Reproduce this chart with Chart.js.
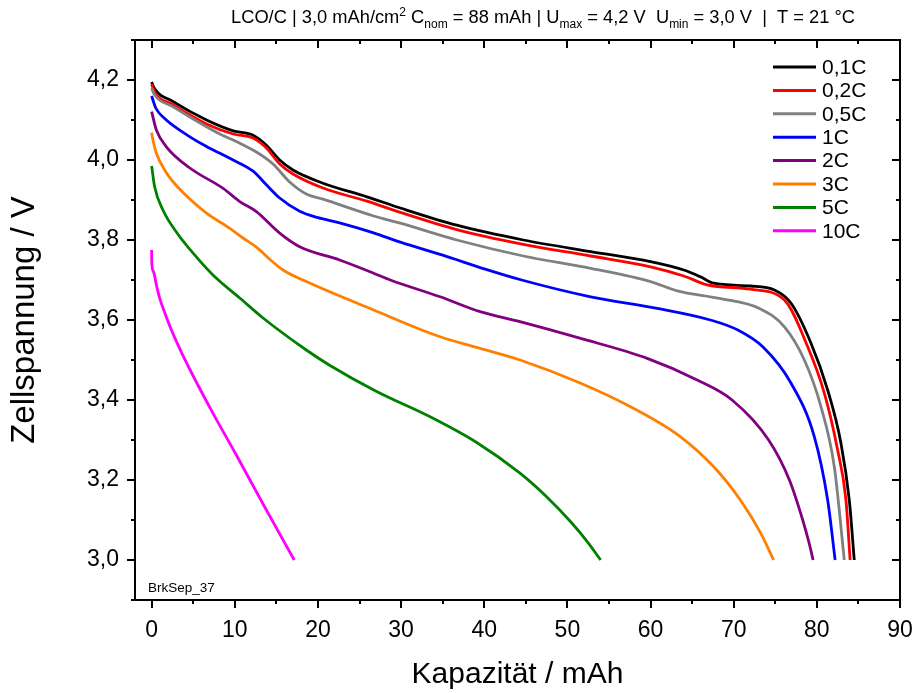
<!DOCTYPE html>
<html><head><meta charset="utf-8">
<script src="https://cdn.jsdelivr.net/npm/chart.js@4.4.0/dist/chart.umd.min.js"></script>
<style>html,body{margin:0;padding:0;background:#fff;}canvas{display:block}</style>
</head><body>
<canvas id="c" width="913" height="693"></canvas>
<script>
const FONT = '"Liberation Sans", Arial, Helvetica, sans-serif';

const seriesLabels = ['0,1C', '0,2C', '0,5C', '1C', '2C', '3C', '5C', '10C'];
const seriesColors = ['#000000', '#ff0000', '#808080', '#0000ff', '#800080', '#ff8000', '#008000', '#ff00ff'];

const cap_01C  = [0, 0.3, 2.6, 6.6, 9.8, 12.2, 13.8, 15.4, 17, 20.6, 25.9, 29.9, 36.7, 44.7, 52.8, 60, 64, 66, 67.6, 72, 74.9, 76.9, 79.3, 81.3, 82.9, 83.9, 84.5];
const volt_01C = [4.195, 4.180, 4.146, 4.100, 4.073, 4.062, 4.037, 4.000, 3.975, 3.942, 3.908, 3.880, 3.837, 3.800, 3.771, 3.746, 3.725, 3.708, 3.692, 3.685, 3.675, 3.642, 3.542, 3.425, 3.292, 3.150, 3.000];

const cap_02C  = [0, 0.3, 2.6, 6.6, 9.8, 12.2, 13.8, 15.4, 17, 20.6, 25.9, 29.9, 36.7, 44.7, 52.8, 60, 64, 66.8, 72, 76.1, 78.9, 80.9, 82.5, 83.5, 84.0];
const volt_02C = [4.190, 4.172, 4.138, 4.090, 4.065, 4.055, 4.030, 3.990, 3.965, 3.930, 3.897, 3.869, 3.826, 3.789, 3.760, 3.733, 3.710, 3.688, 3.677, 3.650, 3.533, 3.417, 3.275, 3.150, 3.000];

const cap_05C  = [0, 0.3, 2.6, 6.6, 8.2, 10.6, 12.6, 14.6, 16.6, 18.6, 20.6, 26.7, 29.9, 36.7, 44.7, 52.8, 60, 63.2, 68.3, 73.1, 76.1, 78.5, 80.5, 82.1, 83.3];
const volt_05C = [4.180, 4.165, 4.133, 4.083, 4.065, 4.042, 4.020, 3.990, 3.945, 3.915, 3.902, 3.860, 3.842, 3.800, 3.760, 3.729, 3.696, 3.673, 3.654, 3.629, 3.583, 3.500, 3.383, 3.233, 3.000];

const cap_1C   = [0, 0.5, 1.5, 4.6, 6.6, 9.8, 12.2, 13.8, 15.4, 17.8, 20, 22.6, 26.7, 30, 35, 40, 44.5, 52.8, 60.8, 67.2, 70.5, 73.5, 76.9, 79.7, 81.3, 82.2];
const volt_1C  = [4.160, 4.130, 4.105, 4.058, 4.034, 4.000, 3.972, 3.938, 3.905, 3.872, 3.856, 3.843, 3.818, 3.794, 3.762, 3.728, 3.700, 3.658, 3.629, 3.600, 3.575, 3.533, 3.442, 3.308, 3.150, 3.000];

const cap_2C   = [0, 0.57, 1.77, 4.6, 8.6, 10.6, 12.6, 15.4, 17.8, 22.6, 26.7, 28.7, 34.7, 39.5, 44.3, 51.6, 59.6, 65.6, 69.8, 74.2, 76.7, 78.3, 79.1, 79.55];
const volt_2C  = [4.121, 4.075, 4.033, 3.980, 3.929, 3.896, 3.871, 3.817, 3.783, 3.750, 3.717, 3.700, 3.658, 3.621, 3.596, 3.554, 3.504, 3.450, 3.400, 3.300, 3.200, 3.100, 3.040, 3.000];

const cap_3C   = [0, 0.16, 0.57, 1.77, 2.6, 3.8, 6.6, 9.4, 11.0, 12.6, 14.2, 15.8, 18.6, 26.7, 34.7, 39.5, 44.3, 51.6, 57.6, 63.6, 67.6, 70.8, 73.25, 74.8];
const volt_3C  = [4.068, 4.050, 4.017, 3.968, 3.945, 3.918, 3.867, 3.829, 3.805, 3.782, 3.752, 3.725, 3.696, 3.625, 3.558, 3.529, 3.500, 3.442, 3.383, 3.308, 3.233, 3.150, 3.067, 3.000];

const cap_5C   = [0, 0.36, 1.36, 2.97, 5.4, 7.4, 10.6, 13.4, 18.6, 21.4, 27.0, 33.5, 39.0, 44.3, 47.5, 50.5, 52.5, 54.0];
const volt_5C  = [3.985, 3.933, 3.875, 3.820, 3.757, 3.712, 3.655, 3.605, 3.525, 3.487, 3.422, 3.358, 3.295, 3.217, 3.158, 3.093, 3.043, 3.000];

const cap_10C  = [0, 0.02, 0.2, 0.6, 1.0, 1.6, 2.5, 3.5, 5.0, 7.4, 10.2, 13.4, 17.15];
const volt_10C = [3.775, 3.742, 3.722, 3.685, 3.652, 3.617, 3.569, 3.523, 3.460, 3.366, 3.262, 3.140, 3.000];

const seriesCaps  = [cap_01C, cap_02C, cap_05C, cap_1C, cap_2C, cap_3C, cap_5C, cap_10C];
const seriesVolts = [volt_01C, volt_02C, volt_05C, volt_1C, volt_2C, volt_3C, volt_5C, volt_10C];

const xTickValues = [0, 10, 20, 30, 40, 50, 60, 70, 80, 90];
const yTickValues = [3.0, 3.2, 3.4, 3.6, 3.8, 4.0, 4.2];

const datasets = seriesLabels.map((lab, i) => ({
  label: lab,
  data: seriesCaps[i].map((c, k) => ({ x: c, y: seriesVolts[i][k] })),
  borderColor: seriesColors[i],
  backgroundColor: seriesColors[i],
  borderWidth: 2.8,
  pointRadius: 0,
  showLine: true,
  cubicInterpolationMode: 'monotone',
  fill: false,
  order: seriesLabels.length - i
}));

const framePlugin = {
  id: 'frame',
  afterDraw(chart) {
    const { ctx, chartArea: a, scales: { x, y } } = chart;
    ctx.save();
    ctx.strokeStyle = '#000';
    ctx.lineWidth = 2;
    ctx.strokeRect(a.left, a.top, a.right - a.left, a.bottom - a.top);
    ctx.beginPath();
    for (let v = 0; v <= 90; v += 5) {
      const px = Math.round(x.getPixelForValue(v));
      const len = (v % 10 === 0) ? 8 : 4;
      ctx.moveTo(px, a.bottom); ctx.lineTo(px, a.bottom + len);
      ctx.moveTo(px, a.top); ctx.lineTo(px, a.top + len);
    }
    for (let k = 29; k <= 43; k++) {
      const py = Math.round(y.getPixelForValue(k / 10));
      const len = (k % 2 === 0) ? 8 : 4;
      ctx.moveTo(a.left - len, py); ctx.lineTo(a.left, py);
      ctx.moveTo(a.right - len, py); ctx.lineTo(a.right, py);
    }
    ctx.stroke();

    // header with sub/superscripts
    const big = 18.3, small = 12;
    const parts = [
      ['LCO/C | 3,0 mAh/cm', 0], ['2', -1], [' C', 0], ['nom', 1], [' = 88 mAh | U', 0], ['max', 1],
      [' = 4,2 V  U', 0], ['min', 1], [' = 3,0 V  |  T = 21 \u00B0C', 0]
    ];
    let total = 0;
    parts.forEach(p => { ctx.font = (p[1] ? small : big) + 'px ' + FONT; total += ctx.measureText(p[0]).width; });
    let cx = 543 - total / 2;
    const base = 23;
    ctx.fillStyle = '#000';
    ctx.textBaseline = 'alphabetic';
    ctx.textAlign = 'left';
    parts.forEach(p => {
      ctx.font = (p[1] ? small : big) + 'px ' + FONT;
      const dy = p[1] === 1 ? 5 : (p[1] === -1 ? -7 : 0);
      ctx.fillText(p[0], cx, base + dy);
      cx += ctx.measureText(p[0]).width;
    });

    // note
    ctx.font = '13.5px ' + FONT;
    ctx.fillText('BrkSep_37', 148, 592);

    // legend
    ctx.textBaseline = 'middle';
    ctx.font = '21px ' + FONT;
    chart.data.datasets.forEach((ds, i) => {
      const ly = 67 + i * 23.4;
      ctx.strokeStyle = ds.borderColor;
      ctx.lineWidth = 3;
      ctx.beginPath(); ctx.moveTo(773, ly); ctx.lineTo(816, ly); ctx.stroke();
      ctx.fillStyle = '#000';
      ctx.fillText(ds.label, 822, ly + 1);
    });
    ctx.restore();
  }
};

new Chart(document.getElementById('c'), {
  type: 'scatter',
  data: { datasets },
  options: {
    responsive: false,
    animation: false,
    devicePixelRatio: 1,
    layout: { padding: { top: 40, right: 13, left: 0, bottom: 0 } },
    plugins: { legend: { display: false }, tooltip: { enabled: false }, title: { display: false } },
    scales: {
      x: {
        type: 'linear', min: -2, max: 90,
        afterBuildTicks: s => { s.ticks = xTickValues.map(v => ({ value: v })); },
        afterFit: s => { s.height = 93; s.paddingLeft = 0; s.paddingRight = 0; },
        ticks: { color: '#000', font: { family: FONT, size: 23 }, padding: 9, maxRotation: 0, callback: v => String(v) },
        grid: { display: true, drawOnChartArea: false, drawTicks: true, tickLength: 8, tickColor: 'rgba(0,0,0,0)' },
        border: { display: false },
        title: { display: true, text: 'Kapazität / mAh', color: '#000', font: { family: FONT, size: 30 }, padding: { top: 0, bottom: 0 } }
      },
      y: {
        type: 'linear', min: 2.9, max: 4.3,
        afterBuildTicks: s => { s.ticks = yTickValues.map(v => ({ value: v })); },
        afterFit: s => { s.width = 135; s.paddingTop = 0; s.paddingBottom = 0; },
        ticks: { color: '#000', font: { family: FONT, size: 23 }, padding: 8, callback: v => v.toFixed(1).replace('.', ',') },
        grid: { display: true, drawOnChartArea: false, drawTicks: true, tickLength: 8, tickColor: 'rgba(0,0,0,0)' },
        border: { display: false },
        title: { display: true, text: 'Zellspannung / V', color: '#000', font: { family: FONT, size: 33 }, padding: { top: 5, bottom: 0 } }
      }
    }
  },
  plugins: [framePlugin]
});
</script>
</body></html>
